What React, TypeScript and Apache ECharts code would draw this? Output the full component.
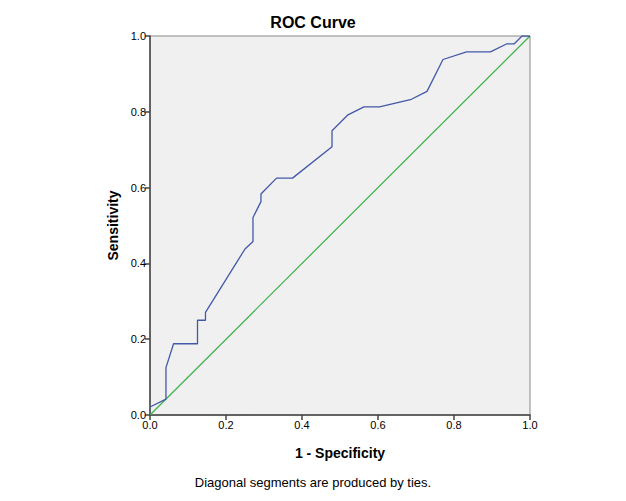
import React, { useEffect, useRef } from "react";
import * as echarts from "echarts";

const rocX = [0, 0.042, 0.042, 0.062, 0.125, 0.125, 0.146, 0.146, 0.25, 0.271, 0.271, 0.292, 0.292, 0.333, 0.375, 0.479, 0.479, 0.521, 0.563, 0.604, 0.688, 0.729, 0.771, 0.833, 0.896, 0.938, 0.958, 0.979, 1.0];
const rocY = [0.021, 0.042, 0.125, 0.188, 0.188, 0.25, 0.25, 0.271, 0.438, 0.458, 0.521, 0.563, 0.583, 0.625, 0.625, 0.708, 0.75, 0.792, 0.813, 0.813, 0.833, 0.854, 0.938, 0.958, 0.958, 0.979, 0.979, 1.0, 1.0];
const refX = [0, 1];
const refY = [0, 1];
const tickLabels = ["0.0", "0.2", "0.4", "0.6", "0.8", "1.0"];

const FONT = "'Liberation Sans', Arial, sans-serif";

export default function App() {
  const ref = useRef<HTMLDivElement>(null);
  useEffect(() => {
    if (!ref.current) return;
    const chart = echarts.init(ref.current, null, { renderer: "svg" });
    const axisCommon = (name: string, gap: number) => ({
      type: "value",
      min: 0,
      max: 1,
      interval: 0.2,
      name,
      nameLocation: "middle",
      nameGap: gap,
      nameTextStyle: { fontFamily: FONT, fontSize: 14, fontWeight: "bold", color: "#000" },
      axisLine: { show: true, lineStyle: { color: "#444", width: 1.5 } },
      axisTick: { show: true, inside: false, length: 5, lineStyle: { color: "#444", width: 1.5 } },
      axisLabel: {
        fontFamily: FONT,
        fontSize: 11,
        color: "#000",
        margin: 4,
        formatter: (v: number) => tickLabels[Math.round(v / 0.2)] ?? v.toFixed(1),
      },
      splitLine: { show: false },
    });
    chart.setOption({
      animation: false,
      backgroundColor: "#fff",
      title: {
        text: "ROC Curve",
        left: "center",
        top: 9,
        textStyle: { fontFamily: FONT, fontSize: 16, fontWeight: "bold", color: "#000" },
      },
      grid: {
        left: 150,
        right: 96,
        top: 36,
        bottom: 86,
        show: true,
        backgroundColor: "#f0f0f0",
        borderColor: "#888",
        borderWidth: 1,
      },
      xAxis: axisCommon("1 - Specificity", 31),
      yAxis: axisCommon("Sensitivity", 30),
      series: [
        {
          type: "line",
          data: refX.map((x, i) => [x, refY[i]]),
          showSymbol: false,
          symbol: "none",
          lineStyle: { color: "#3cb04a", width: 1.2 },
          z: 2,
        },
        {
          type: "line",
          data: rocX.map((x, i) => [x, rocY[i]]),
          showSymbol: false,
          symbol: "none",
          lineStyle: { color: "#4258a8", width: 1.3 },
          z: 3,
        },
      ],
      graphic: [
        {
          type: "text",
          left: "center",
          top: 476,
          style: {
            text: "Diagonal segments are produced by ties.",
            fontFamily: FONT,
            fontSize: 13,
            fill: "#000",
          },
        },
      ],
    });
    return () => chart.dispose();
  }, []);
  return (
    <div
      ref={ref}
      style={{ position: "fixed", left: 0, top: 0, width: 626, height: 501 }}
    />
  );
}
